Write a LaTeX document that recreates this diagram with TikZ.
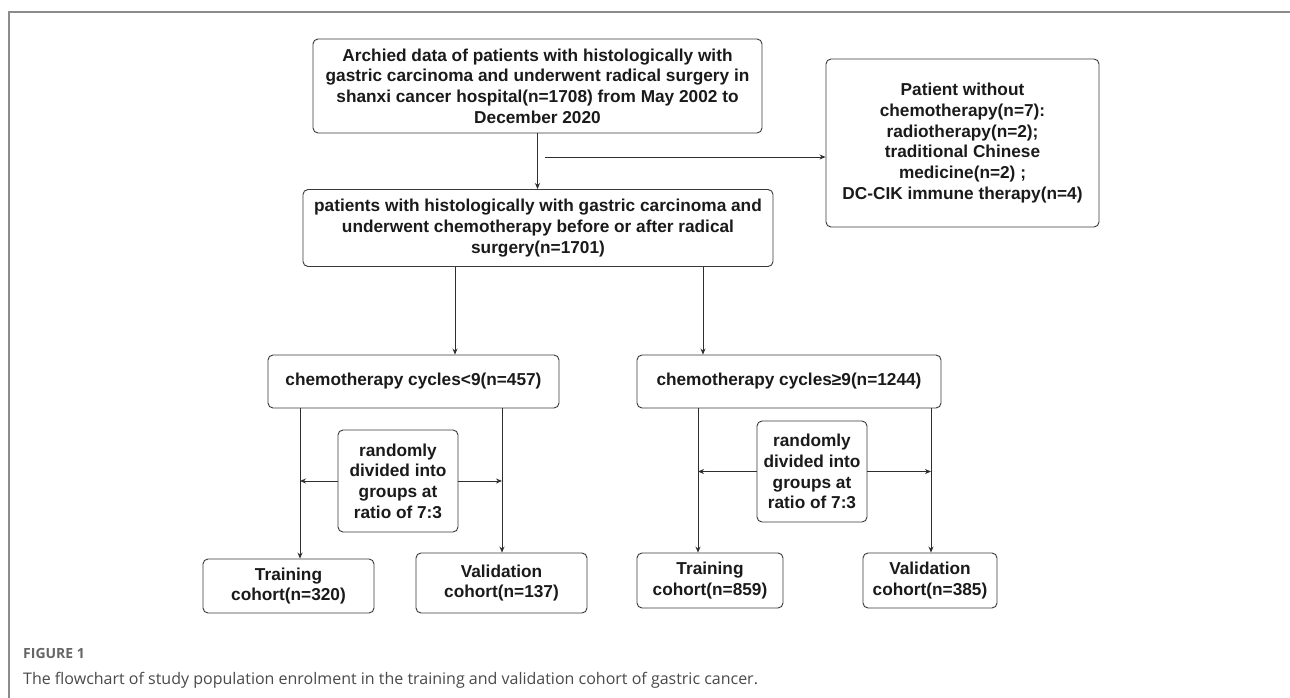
\documentclass[tikz,border=0pt]{standalone}
\usepackage{fontspec}
\setmainfont{Liberation Sans}
\newfontfamily\capfont{Open Sans}
\usetikzlibrary{arrows.meta}
\definecolor{boxc}{HTML}{3A3A3A}
\definecolor{linec}{HTML}{2E2E2E}
\definecolor{framec}{HTML}{8C8C8C}
\definecolor{txtc}{HTML}{1A1A1A}
\definecolor{capc}{HTML}{4A4A4A}
\definecolor{figc}{HTML}{666666}
\begin{document}
\begin{tikzpicture}[x=1pt,y=-1pt,
 box/.style={draw=boxc, line width=0.9pt, rounded corners=5pt, align=center, inner sep=0pt, text=txtc, font=\bfseries\fontsize{17.25}{20.7}\selectfont},
 conn/.style={draw=linec, line width=0.8pt},
 arr/.style={conn, -{Stealth[length=6pt,width=5pt]}}]
\useasboundingbox (0,0) rectangle (1290,698);
\fill[white] (0,0) rectangle (1290,698);
\draw[framec, line width=1.5pt] (9,698) -- (9,12) -- (1290,12);

\node[box, minimum width=449pt, minimum height=94pt] (A) at (537.5,86) {Archied data of patients with histologically with\\gastric carcinoma and underwent radical surgery in\\shanxi cancer hospital(n=1708) from May 2002 to\\December 2020};
\node[box, minimum width=273pt, minimum height=168pt] (R) at (962.5,143) {Patient without\\chemotherapy(n=7):\\ radiotherapy(n=2);\\traditional Chinese\\medicine(n=2) ;\\DC-CIK immune therapy(n=4)};
\node[box, minimum width=470pt, minimum height=77pt] (B) at (538,228) {patients with histologically with gastric carcinoma and\\underwent chemotherapy before or after radical\\surgery(n=1701)};
\node[box, minimum width=291pt, minimum height=53pt] (C1) at (413.5,381.5) {chemotherapy cycles<9(n=457)};
\node[box, minimum width=304pt, minimum height=53pt] (C2) at (789,381.5) {chemotherapy cycles≥9(n=1244)};
\node[box, minimum width=120pt, minimum height=102pt] (R1) at (398,481) {randomly\\divided into\\groups at\\ratio of 7:3};
\node[box, minimum width=110pt, minimum height=101pt] (R2) at (812,471.5) {randomly\\divided into\\groups at\\ratio of 7:3};
\node[box, minimum width=171pt, minimum height=54pt] (T1) at (288.5,586) {Training\\cohort(n=320)};
\node[box, minimum width=171pt, minimum height=60pt] (V1) at (501.5,583) {Validation\\cohort(n=137)};
\node[box, minimum width=146pt, minimum height=55pt] (T2) at (710,580.5) {Training\\cohort(n=859)};
\node[box, minimum width=134pt, minimum height=55pt] (V2) at (930,580.5) {Validation\\cohort(n=385)};

\draw[arr] (A.south) -- (A.south |- B.north);
\coordinate (hs) at (545,157);
\draw[arr] (hs) -- (hs -| R.west);

\coordinate (b1) at (455,0);
\coordinate (b2) at (703,0);
\draw[arr] (b1 |- B.south) -- (b1 |- C1.north);
\draw[arr] (b2 |- B.south) -- (b2 |- C2.north);

\coordinate (c1l) at (300,0);
\coordinate (c1r) at (502,0);
\coordinate (c2l) at (698,0);
\coordinate (c2r) at (931,0);
\draw[arr] (c1l |- C1.south) -- (c1l |- T1.north);
\draw[arr] (c1r |- C1.south) -- (c1r |- V1.north);
\draw[arr] (c2l |- C2.south) -- (c2l |- T2.north);
\draw[arr] (c2r |- C2.south) -- (c2r |- V2.north);
\draw[arr] (R1.west) -- (R1.west -| c1l);
\draw[arr] (R1.east) -- (R1.east -| c1r);
\draw[arr] (R2.west) -- (R2.west -| c2l);
\draw[arr] (R2.east) -- (R2.east -| c2r);

\node[anchor=west, font=\capfont\bfseries\fontsize{14}{16}\selectfont, text=figc, inner sep=0pt] (fig) at (23,653) {FIGURE 1};
\node[anchor=west, font=\capfont\fontsize{16}{19}\selectfont, text=capc, inner sep=0pt] (cap) at (23,680) {The flowchart of study population enrolment in the training and validation cohort of gastric cancer.};
\end{tikzpicture}
\end{document}
